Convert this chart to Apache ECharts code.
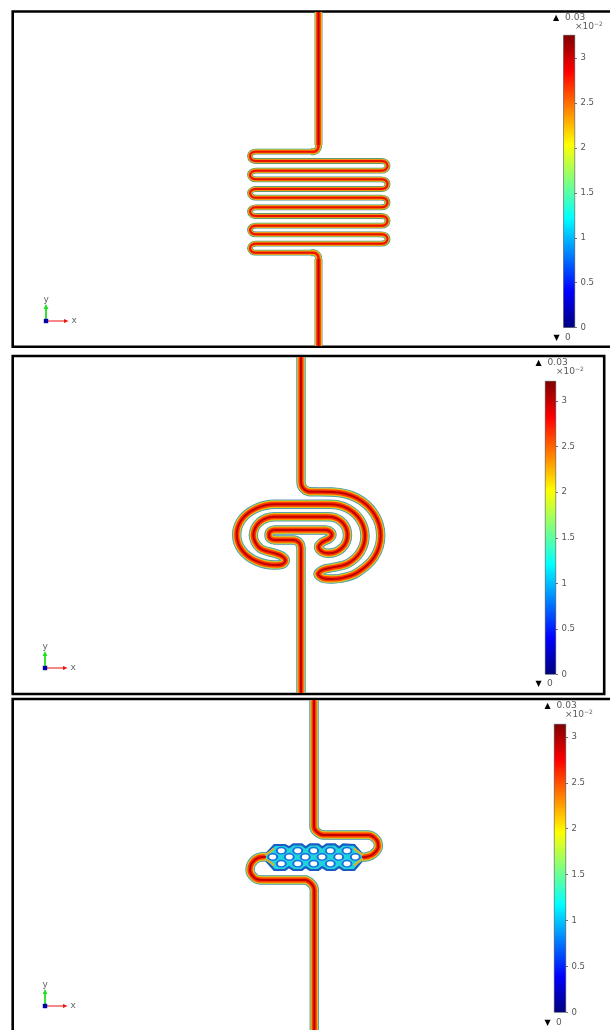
<!DOCTYPE html>
<html><head><meta charset="utf-8">
<style>html,body{margin:0;padding:0;background:#fff}#c{width:610px;height:1030px}</style>
<script src="https://cdn.jsdelivr.net/npm/echarts@6/dist/echarts.min.js"></script>
</head><body><div id="c"></div>
<script>
// Channel centre lines (panel coordinates)
const p1Top=[[318.5,12],[318.5,145]];
const p1Bottom=[[318.5,259],[318.5,346]];
const p1CornerTop=[[318.5,143],[318.5,146.5],[317.2,149.8],[314,151.7],[311,151.7]];
const p1CornerBottom=[[311,252.7],[314,252.7],[317.2,254.6],[318.5,257.5],[318.5,261]];
const p1Serpentine=[[318.5,140],[318.5,146],[317.2,149.8],[314,151.7],[256,151.7],[252,152.6],[250,156.3],[252,160],[256,161],[381,161],[385.5,162],[387.5,165.8],[385.5,169.6],[381,170.7],[256,170.7],[252,171.7],[250,175],[252,178.3],[256,179.3],[381,179.3],[385.5,180.3],[387.5,184.1],[385.5,188],[381,189],[256,189],[252,190],[250,193.3],[252,196.7],[256,197.7],[381,197.7],[385.5,198.7],[387.5,202.5],[385.5,206.3],[381,207.3],[256,207.3],[252,208.3],[250,211.6],[252,215],[256,216],[381,216],[385.5,217],[387.5,220.8],[385.5,224.7],[381,225.7],[256,225.7],[252,226.7],[250,230],[252,233.3],[256,234.3],[381,234.3],[385.5,235.3],[387.5,239],[385.5,242.7],[381,243.7],[256,243.7],[252,244.7],[250,248.2],[252,251.7],[256,252.7],[314,252.7],[317.2,254.6],[318.5,258],[318.5,264]];
const p2Spiral=[[301,357],[301,481.7],[303.3,488.3],[310,491.7],[332,492],[356.4,497.8],[374.2,513.8],[380.7,535.5],[374.2,557.3],[356.4,573.2],[340.5,578.3],[332,579],[324,578.5],[318,574],[323,569.7],[330,568],[347.5,563.7],[360.3,552],[365,536],[360.3,520],[347.5,508.3],[330,504.3],[275,504.3],[255.9,508.5],[241.8,519.5],[236.7,534.7],[241.8,549.9],[255.9,560.9],[275,565],[281.7,564.5],[285.5,560.5],[281.7,556],[275,553.4],[259.7,548],[253.3,535],[259.7,522],[275,516.7],[328.5,516.7],[342,522],[347.5,535],[342,548],[328.5,553.3],[322.5,552],[318.5,547],[322.5,542],[329,538.8],[332,534.5],[329,530.8],[325,530],[275,530],[270.2,531.5],[269,535],[270.2,538.5],[275,540],[293.3,540],[299,542.5],[301,548],[301,600],[301,693]];
const p3Upper=[[314,700],[314,826.7],[316.7,831.7],[323.3,835],[368.3,835],[376.7,840],[378.3,846.7],[373.3,854],[367,856.7],[362,857.3]];
const p3Lower=[[266,856.7],[258.3,857.7],[251.7,863.3],[250,870],[255,878.3],[261.7,880],[305,880],[311.7,884],[314.3,890],[314.3,1030]];
const p3Porous=[[263,857.3],[274.3,845],[285,845],[289,847.3],[293.3,844.3],[301.7,844.3],[305.7,847.3],[310,844.3],[318.3,844.3],[322.3,847.3],[326.7,844.3],[335,844.3],[339,847.3],[343.3,844.3],[354.3,845],[365,857.3],[354.3,870],[343.3,870],[339,867],[335,870],[326.7,870],[322.3,867],[318.3,870],[310,870],[305.7,867],[301.7,870],[293.3,870],[289,867],[285,870],[274.3,870]];
const p3Holes=[[281.3,850.7],[297.7,850.7],[313.7,850.7],[330.3,850.7],[347,850.7],[272.7,857],[289.3,857],[305.3,857],[322,857],[338.7,857],[355.3,857],[281.3,863.7],[297.7,863.7],[313.7,863.7],[330.3,863.7],[347,863.7]];
const p3Fans=[[[265,855],[270,852],[274,848.5]],[[265,859],[270,862],[274,865.5]],[[363,855],[358.5,852],[354,848.5]],[[363,859],[358.5,862],[354,865.5]]];
// Colour bars
const barMax=[3.255,3.22,3.14];
const barTicks=[0,0.5,1,1.5,2,2.5,3];
const barStops=[[0,'#00007f'],[0.125,'#0000ff'],[0.375,'#00ffff'],[0.625,'#ffff00'],[0.875,'#ff0000'],[1,'#7f0000']];
// Band colour layers, widest first
const wide=[[9.4,'#5b8fb4'],[8.4,'#4db89c'],[7.4,'#c8cc40'],[6.4,'#ffb000'],[5,'#ff3a00'],[2,'#c00000']];
const medium=[[8,'#4f9a90'],[7,'#b8c840'],[6,'#ffb000'],[4.6,'#ff3000'],[1.8,'#c00000']];
const corner=[[7,'#4f9a90'],[5.8,'#b8c840'],[4.6,'#ff9a00'],[2.6,'#f01800']];
const narrow=[[5.8,'#3f8f84'],[4.7,'#c4c438'],[3.5,'#ff8000'],[1.9,'#e81000']];

const frames=[[12.7,11.5,600,335.3],[12.7,356,591.5,338],[12.7,699,600,345]];
const barBoxes=[[563.3,35,11.7,292.7],[545,381,11,293.5],[554,724,12,288.5]];
const grids=[],xAxes=[],yAxes=[],series=[];
frames.forEach(f=>{
  grids.push({outerBoundsMode:'none',left:f[0],top:f[1],width:f[2],height:f[3],show:true,borderColor:'#000',borderWidth:2.6,backgroundColor:'#fff'});
  xAxes.push({type:'value',gridIndex:grids.length-1,min:f[0],max:f[0]+f[2],show:false});
  yAxes.push({type:'value',gridIndex:grids.length-1,min:f[1],max:f[1]+f[3],inverse:true,show:false});
});
barBoxes.forEach((b,i)=>{
  grids.push({outerBoundsMode:'none',left:b[0],top:b[1],width:b[2],height:b[3]});
  xAxes.push({type:'category',gridIndex:grids.length-1,data:['u'],show:false});
  yAxes.push({type:'value',gridIndex:grids.length-1,min:0,max:barMax[i],position:'right',
    splitLine:{show:false},axisLine:{show:false},
    axisTick:{show:true,inside:false,length:2,lineStyle:{color:'#777',width:1},customValues:barTicks},
    axisLabel:{show:true,color:'#555',fontFamily:'DejaVu Sans',fontSize:8.5,margin:5.5,customValues:barTicks,formatter:v=>String(v)}});
  series.push({type:'bar',xAxisIndex:grids.length-1,yAxisIndex:grids.length-1,barWidth:'100%',silent:true,animation:false,
    data:[barMax[i]],itemStyle:{borderColor:'#333',borderWidth:0.5,color:{type:'linear',x:0,y:1,x2:0,y2:0,colorStops:barStops.map(s=>({offset:s[0],color:s[1]}))}}});
});
function band(g,pts,layers,smooth){
  layers.forEach(l=>series.push({type:'line',xAxisIndex:g,yAxisIndex:g,data:pts,showSymbol:false,symbol:'none',silent:true,animation:false,smooth:smooth,
    lineStyle:{color:l[1],width:l[0],cap:'butt',join:'round'}}));
}
band(0,p1Serpentine,narrow,0.35);
band(0,p1CornerTop,corner,0.35);
band(0,p1CornerBottom,corner,0.35);
band(0,p1Top,medium,false);
band(0,p1Bottom,medium,false);
band(1,p2Spiral,wide,0.34);
series.push({type:'custom',xAxisIndex:2,yAxisIndex:2,silent:true,animation:false,clip:false,data:[0],
  renderItem:(p,api)=>({type:'polygon',shape:{points:p3Porous.map(q=>api.coord(q))},style:{fill:'#20d4dc',stroke:'#1a5cc4',lineWidth:2.2}})});
band(2,p3Upper,wide,0.38);
band(2,p3Lower,wide,0.38);
p3Fans.forEach(f=>band(2,f,[[2.4,'#a8d850'],[1.2,'#f0a020']],0.3));
series.push({type:'scatter',xAxisIndex:2,yAxisIndex:2,data:p3Holes,symbol:'circle',symbolSize:[9,6.4],silent:true,animation:false,z:5,
  itemStyle:{color:'#fff',borderColor:'#1670e0',borderWidth:1.7,opacity:1}});

const txt='#5a5a5a';
const graphic=[];
function T(x,y,s,o,sx){graphic.push({type:'text',x,y,scaleX:sx||1.13,silent:true,style:Object.assign({text:s,fill:txt,font:'8px "DejaVu Sans"',textVerticalAlign:'middle'},o||{})});}
[[553,18,575,27],[535.5,363,556,372],[544.5,706,565,715]].forEach(a=>{
  T(a[0],a[1],'▲',{fill:'#000',font:'8px "DejaVu Sans"'},1);
  T(a[0]+12,a[1],'0.03');
  T(a[2],a[3],'×10');
  T(a[2]+19,a[3]-3,'−2',{font:'6px "DejaVu Sans"'},1);
});
[[553.5,338],[535.5,684],[544.5,1022.5]].forEach(a=>{
  T(a[0],a[1],'▼',{fill:'#000',font:'8px "DejaVu Sans"'},1);
  T(a[0]+11.5,a[1],'0');
});
[[46,321],[45,668],[45,1006]].forEach(a=>{
  const x=a[0],y=a[1];
  graphic.push({type:'line',silent:true,shape:{x1:x,y1:y,x2:x+19,y2:y},style:{stroke:'#f01010',lineWidth:1}});
  graphic.push({type:'polygon',silent:true,shape:{points:[[x+22.5,y],[x+18,y-2],[x+18,y+2]]},style:{fill:'#f01010'}});
  graphic.push({type:'line',silent:true,shape:{x1:x,y1:y,x2:x,y2:y-13},style:{stroke:'#20e020',lineWidth:1.8}});
  graphic.push({type:'polygon',silent:true,shape:{points:[[x,y-17],[x-2.4,y-12],[x+2.4,y-12]]},style:{fill:'#20e020'}});
  graphic.push({type:'rect',silent:true,shape:{x:x-2.2,y:y-2.2,width:4.4,height:4.4},style:{fill:'#0000b0'}});
  T(x+25.5,y,'x',{fill:'#666'});
  T(x-2.5,y-21.5,'y',{fill:'#666'});
});
const chart=echarts.init(document.getElementById('c'),null,{renderer:'canvas'});
chart.setOption({animation:false,backgroundColor:'#fff',grid:grids,xAxis:xAxes,yAxis:yAxes,series,graphic});
</script></body></html>
